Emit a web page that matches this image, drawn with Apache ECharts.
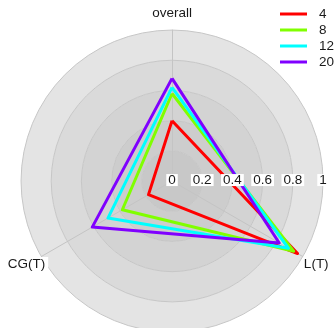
<!DOCTYPE html>
<html><head><meta charset="utf-8">
<script src="https://cdn.jsdelivr.net/npm/echarts@6/dist/echarts.min.js"></script>
<style>html,body{margin:0;padding:0;background:#fff}#c{width:336px;height:328px}</style>
</head><body><div id="c"></div>
<script>
// values in order: overall, L(T), CG(T)
const indicators = ['overall', 'L(T)', 'CG(T)'];
const seriesNames = ['4', '8', '12', '20'];
const s4 = [0.40, 0.96, 0.18];
const s8 = [0.58, 0.93, 0.38];
const s12 = [0.62, 0.89, 0.49];
const s20 = [0.68, 0.82, 0.61];
const colors = ['#FF0000', '#80FF00', '#00FFFF', '#8000FF'];
const tickValues = [0, 0.2, 0.4, 0.6, 0.8, 1];
const values = [s4, s8, s12, s20];

// ECharts radar goes counter-clockwise; reorder so axes run clockwise like the reference
const order = [0, 2, 1];

const FONT = 'Liberation Sans, Arial, sans-serif';
const TXT = '#1a1a1a';
const chart = echarts.init(document.getElementById('c'));
chart.setOption({
  animation: false,
  legend: {
    orient: 'vertical', left: 275, top: 1,
    data: seriesNames.map((n) => ({ name: n, icon: 'rect' })),
    itemWidth: 27, itemHeight: 3, itemGap: 0,
    textStyle: { fontFamily: FONT, fontSize: 13.5, color: TXT, lineHeight: 16, padding: [0, 0, 0, 7] }
  },
  radar: {
    center: ['51.2%', '55.2%'],
    radius: 151,
    startAngle: 90,
    shape: 'circle',
    splitNumber: 5,
    indicator: order.map(k => ({ name: indicators[k], min: 0, max: 1 })),
    axisName: {
      color: TXT, fontFamily: FONT, fontSize: 13.5,
      formatter: (name) => name === 'overall' ? '{t|overall}' :
        (name === 'L(T)' ? '{sp| }\n{r|' + name + '}' : '{sp| }\n{l|' + name + '}'),
      rich: {
        t: { fontFamily: FONT, fontSize: 13.5, color: TXT, padding: [0, 0, 18, 0] },
        sp: { fontSize: 2, lineHeight: 23 },
        r: { fontFamily: FONT, fontSize: 13.5, color: TXT, lineHeight: 16, padding: [0, 0, 0, 8] },
        l: { fontFamily: FONT, fontSize: 13.5, color: TXT, lineHeight: 16, backgroundColor: '#fff', padding: [0, 3, 0, 0] }
      }
    },
    nameGap: -8,
    axisLine: { lineStyle: { color: '#c4c4c4', width: 1 } },
    axisTick: { show: false },
    axisLabel: { show: false },
    splitLine: { lineStyle: { color: '#c6c6c6', width: 1 } },
    splitArea: { show: true, areaStyle: { color: ['#c8c8c8', '#cdcdcd', '#d3d3d3', '#dadada', '#e4e4e4'] } }
  },
  polar: { center: ['51.2%', '55.2%'], radius: 151 },
  angleAxis: { show: false, startAngle: 0, min: 0, max: 360 },
  radiusAxis: {
    min: 0, max: 1, interval: 0.2, z: 10,
    axisLine: { show: false }, axisTick: { show: false }, splitLine: { show: false },
    axisLabel: {
      show: true, margin: -5, fontFamily: FONT, fontSize: 13.5, color: TXT,
      backgroundColor: '#fff', padding: [0, 2], lineHeight: 12,
      formatter: (v) => String(+v.toFixed(1))
    }
  },
  series: values.map((vals, i) => ({
    type: 'radar',
    name: seriesNames[i],
    symbol: 'none',
    z: 2 + i,
    lineStyle: { color: colors[i], width: 3 },
    itemStyle: { color: colors[i] },
    data: [{ value: order.map(k => vals[k]), name: seriesNames[i] }]
  }))
});
</script></body></html>
